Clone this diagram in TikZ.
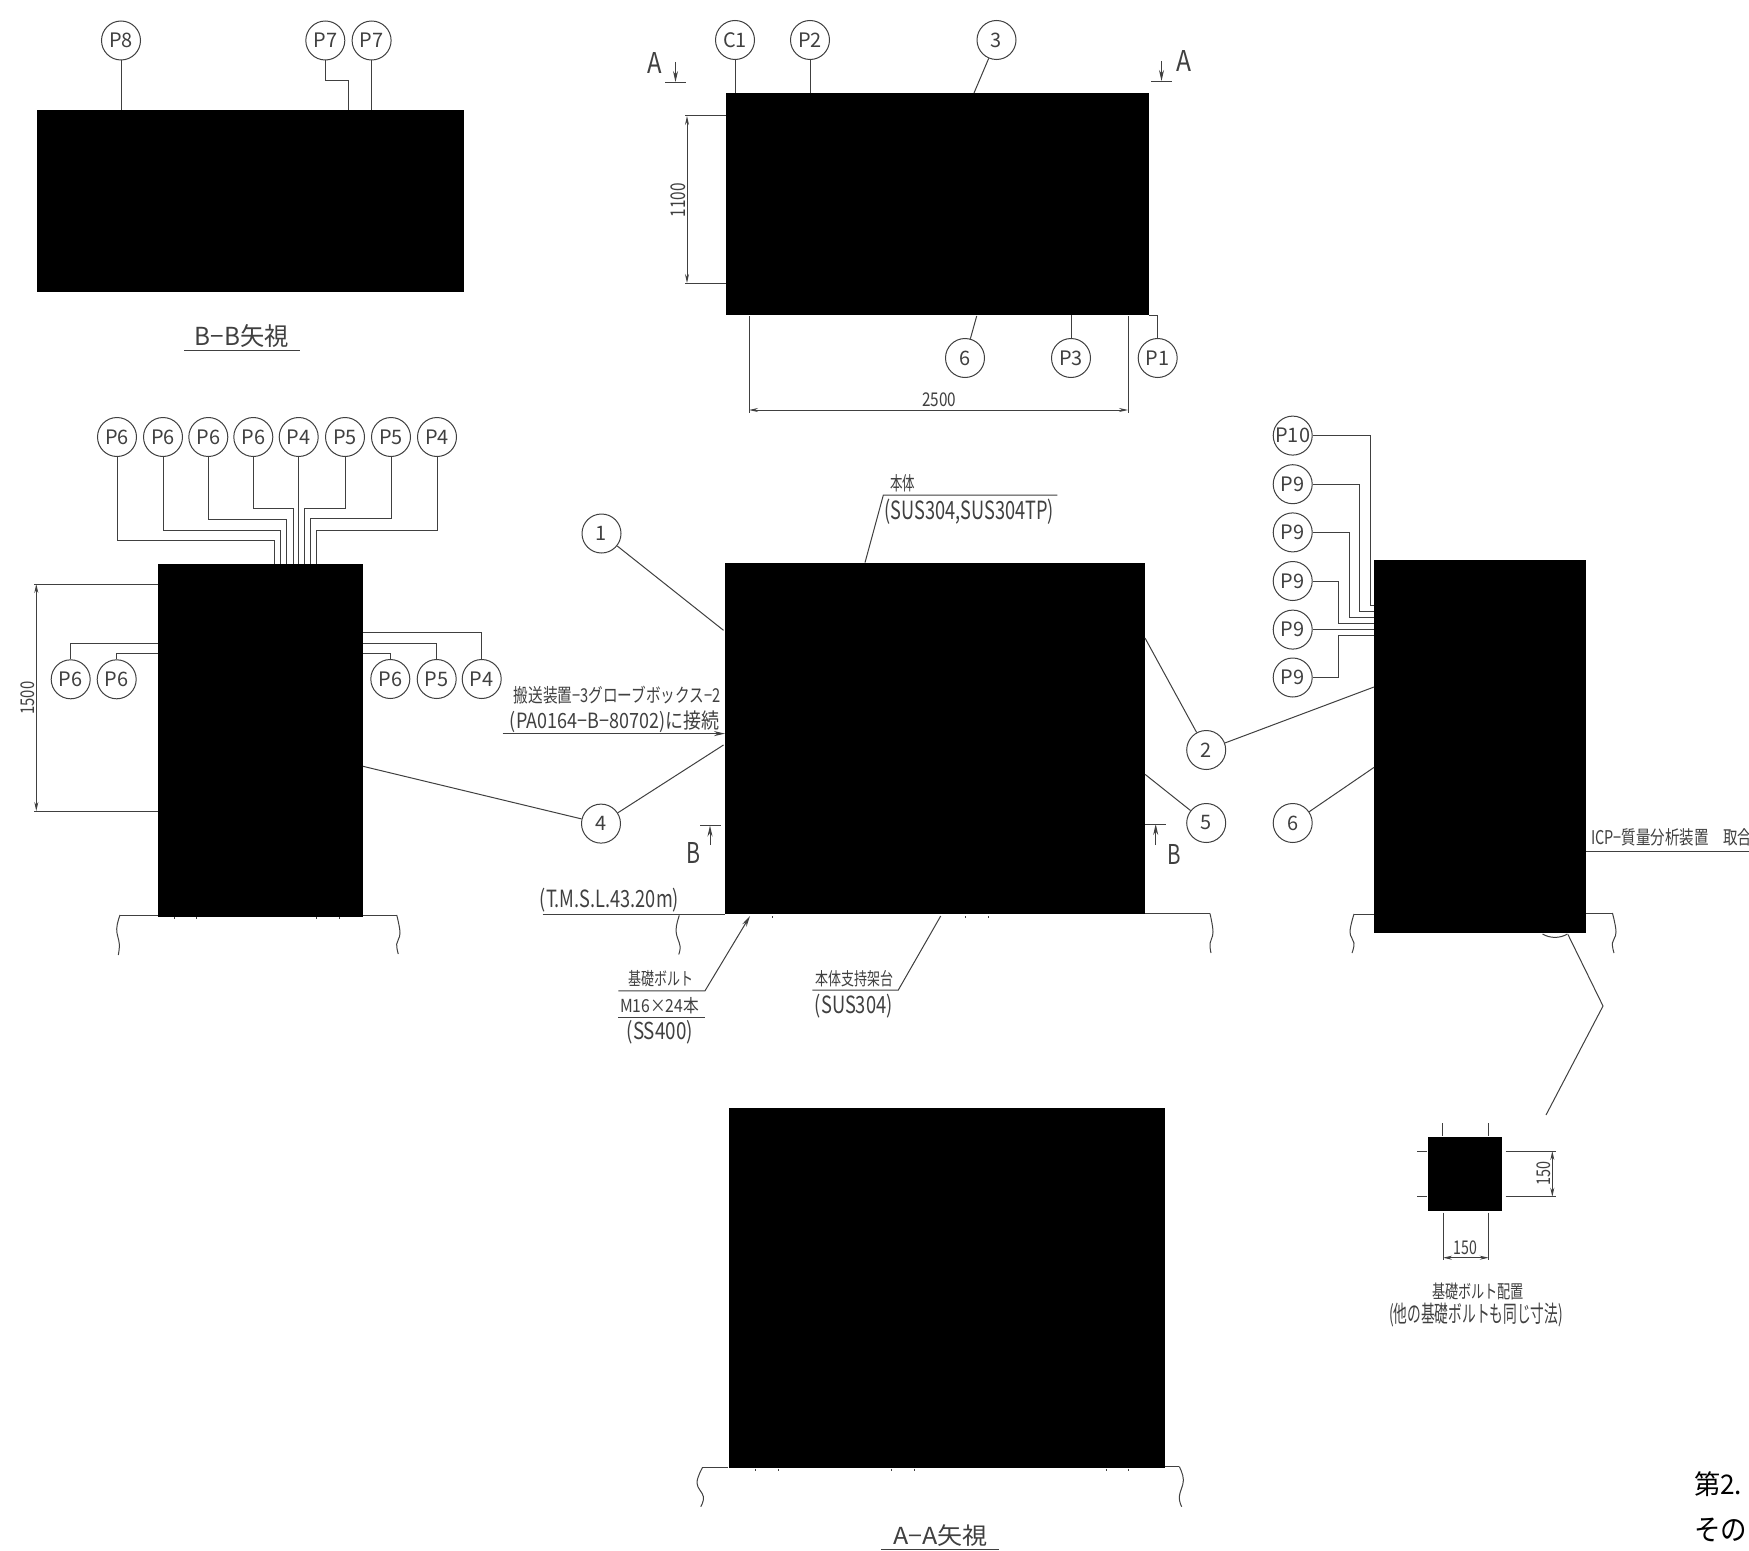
\documentclass[tikz,border=0pt]{standalone}
\usepackage{graphicx}
\usepackage{fontspec}
\setmainfont{Noto Sans CJK JP}
\usetikzlibrary{arrows.meta,calc}
\newcommand\tbox[3]{\resizebox*{#1bp}{#2bp}{#3}}
\definecolor{ink}{gray}{0.25}
\tikzset{
  ln/.style={draw=ink,line width=1bp},
  dim/.style={ln,{Stealth[length=9bp,width=4bp]}-{Stealth[length=9bp,width=4bp]}},
  arw/.style={ln,-{Stealth[length=11bp,width=5bp]}},
  blk/.style={fill=black,inner sep=0bp,outer sep=0bp,anchor=north west},
  bub/.style={circle,draw=ink,line width=1bp,minimum size=39bp,inner sep=0bp,text=ink,font=\fontsize{20}{20}\selectfont},
  lab/.style={inner sep=0bp,outer sep=0bp,text=ink,anchor=center},
}
\begin{document}
\begin{tikzpicture}[x=1bp,y=-1bp]
\useasboundingbox (0,0) rectangle (1749,1551);
\fill[white] (0,0) rectangle (1749,1551);

% black masked views
\node[blk,minimum width=427bp,minimum height=182bp] (bb) at (37,110) {};
\node[blk,minimum width=423bp,minimum height=222bp] (top) at (726,93) {};
\node[blk,minimum width=205.3bp,minimum height=353bp] (left) at (157.7,564) {};
\node[blk,minimum width=420bp,minimum height=351.4bp] (main) at (725,562.6) {};
\node[blk,minimum width=212bp,minimum height=372.7bp] (right) at (1374,560) {};
\node[blk,minimum width=435.8bp,minimum height=360.4bp] (aa) at (729,1107.6) {};
\node[blk,minimum width=74bp,minimum height=74bp] (bolt) at (1428,1137) {};

% balloons
\node[bub] (p8) at (121,40.5) {P8};
\node[bub] (p7a) at (325.3,40.5) {P7};
\node[bub] (p7b) at (371.6,40.5) {P7};
\node[bub] (c1) at (735,40) {C1};
\node[bub] (p2) at (810,40) {P2};
\node[bub] (n3) at (996.5,40) {3};
\node[bub] (n6a) at (965,358) {6};
\node[bub] (p3) at (1071,358) {P3};
\node[bub] (p1) at (1157.7,358) {P1};
\node[bub] (t1) at (117,437) {P6};
\node[bub] (t2) at (163,437) {P6};
\node[bub] (t3) at (208.3,437) {P6};
\node[bub] (t4) at (253.3,437) {P6};
\node[bub] (t5) at (298.7,437) {P4};
\node[bub] (t6) at (345,437) {P5};
\node[bub] (t7) at (391,437) {P5};
\node[bub] (t8) at (437,437) {P4};
\node[bub] (l1) at (70.7,679.3) {P6};
\node[bub] (l2) at (116.7,679.3) {P6};
\node[bub] (r1) at (390.3,679) {P6};
\node[bub] (r2) at (436.7,679) {P5};
\node[bub] (r3) at (481.7,679) {P4};
\node[bub] (n1) at (601.5,533.5) {1};
\node[bub] (n4) at (601,823.6) {4};
\node[bub] (n2) at (1206.2,750) {2};
\node[bub] (n5) at (1206.2,823) {5};
\node[bub] (n6b) at (1292.7,823) {6};
\node[bub] (s1) at (1292.7,435.6) {P10};
\node[bub] (s2) at (1292.7,484.2) {P9};
\node[bub] (s3) at (1292.7,532.4) {P9};
\node[bub] (s4) at (1292.7,581) {P9};
\node[bub] (s5) at (1292.7,629.6) {P9};
\node[bub] (s6) at (1292.7,677.5) {P9};

% leaders: B-B view
\draw[ln] (p8) -- (p8 |- bb.north);
\draw[ln] (p7b) -- (p7b |- bb.north);
\coordinate (p7in) at (348.3,110);
\draw[ln] (p7a.south) -- ++(0,19.7) -| (p7in);

% leaders: plan view
\draw[ln] (c1) -- (c1 |- top.north);
\draw[ln] (p2) -- (p2 |- top.north);
\coordinate (e3) at (974,93);
\draw[ln] (n3) -- (e3);
\coordinate (e6a) at (976.7,316);
\draw[ln] (e6a) -- (n6a);
\draw[ln] (p3) -- (p3 |- top.south);
\draw[ln] (top.south east) -| (p1.north);

% leaders: left view top
\foreach \n/\x/\d in {t1/274.7/83.5,t2/280.3/73.5,t3/286.7/62.3,t4/293/51.9,t6/304.3/51.9,t7/310.3/61.9,t8/316/73}{
  \coordinate (\n in) at (\x,564);
  \draw[ln] (\n.south) -- ++(0,\d) -| (\n in);
}
\draw[ln] (t5) -- (t5 |- left.north);

% leaders: left view sides
\coordinate (lA) at (157.7,643);
\coordinate (lB) at (157.7,653.8);
\coordinate (rA) at (363,653.4);
\coordinate (rB) at (363,643);
\coordinate (rC) at (363,632);
\draw[ln] (l1.north) |- (lA);
\draw[ln] (l2.north) |- (lB);
\draw[ln] (r1.north) |- (rA);
\draw[ln] (r2.north) |- (rB);
\draw[ln] (r3.north) |- (rC);

% leaders: main view
\coordinate (e1) at (723.5,630.3);
\draw[ln] (n1) -- (e1);
\coordinate (e4l) at (363,766.3);
\draw[ln] (e4l) -- (n4);
\coordinate (e4m) at (723.5,745);
\draw[ln] (n4) -- (e4m);
\coordinate (e2m) at (1145,638);
\draw[ln] (e2m) -- (n2);
\coordinate (e2r) at (1374,687);
\draw[ln] (n2) -- (e2r);
\coordinate (e5) at (1145,774.3);
\draw[ln] (e5) -- (n5);
\coordinate (e6b) at (1374,767.4);
\draw[ln] (n6b) -- (e6b);

% leaders: side view
\coordinate (i1) at (1374,605.5);
\coordinate (i2) at (1374,611);
\coordinate (i3) at (1374,617.4);
\coordinate (i4) at (1374,623.5);
\coordinate (i5) at (1374,629.6);
\coordinate (i6) at (1374,635.7);
\draw[ln] (s1.east) -| (1370,605.5) -- (i1);
\draw[ln] (s2.east) -| (1359.8,611) -- (i2);
\draw[ln] (s3.east) -| (1349,617.4) -- (i3);
\draw[ln] (s4.east) -| (1338,623.5) -- (i4);
\draw[ln] (s5.east) -- (i5);
\draw[ln] (s6.east) -| (1338,635.7) -- (i6);

% dimensions
\coordinate (d1a) at (685,116);
\coordinate (d1b) at (685,283);
\draw[ln] (d1a) -- (top.west |- d1a);
\draw[ln] (d1b) -- (top.west |- d1b);
\draw[dim] (687,116) -- (687,283);
\node[lab,rotate=90] (t1100) at (678,200) {\tbox{34}{15}{1100}};
\draw[ln] (749,316) -- (749,413);
\draw[ln] (1128,316) -- (1128,413);
\draw[dim] (749,410) -- (1128,410);
\node[lab] (t2500) at (939,400) {\tbox{34}{14}{2500}};
\coordinate (d3a) at (34,584);
\coordinate (d3b) at (34,811);
\draw[ln] (d3a) -- (d3a -| left.west);
\draw[ln] (d3b) -- (d3b -| left.west);
\draw[dim] (36.3,584) -- (36.3,811);
\node[lab,rotate=90] (t1500) at (27.3,698) {\tbox{33}{14}{1500}};

% section marks
\draw[ln] (665,82.3) -- (686,82.3);
\draw[arw] (675.5,62) -- (675.5,82);
\node[lab] (tAl) at (655,62.5) {\tbox{14.5}{21}{A}};
\draw[ln] (1151,82) -- (1172,82);
\draw[arw] (1161.5,61) -- (1161.5,81);
\node[lab] (tAr) at (1183.5,61) {\tbox{15}{21}{A}};
\draw[ln] (700,825.5) -- (721,825.5);
\draw[arw] (710,845) -- (710,825.5);
\node[lab] (tBl) at (693.7,853) {\tbox{14}{21}{B}};
\draw[ln] (1145,824) -- (1165.5,824);
\draw[arw] (1155.7,845) -- (1155.7,824);
\node[lab] (tBr) at (1174.2,854) {\tbox{13.5}{20}{B}};

% view titles
\node[lab] (tbb) at (242,336.5) {\tbox{94}{23}{B−B矢視}};
\draw[ln] (184,350) -- (300,350);
\node[lab] (taa) at (940.7,1536) {\tbox{94.5}{21.7}{A−A矢視}};
\draw[ln] (880.8,1549) -- (998.5,1549);

% annotations
\coordinate (eh) at (865,562.6);
\draw[ln] (eh) -- (883.3,495.2) -- (1057.4,495.2);
\node[lab] (thon) at (902.5,483.7) {\tbox{25}{17.5}{本体}};
\node[lab] (thonm) at (969.3,511.3) {\tbox{169.5}{25.4}{(SUS304,SUS304TP)}};
\node[lab] (tcon1) at (617.3,695) {\tbox{206.7}{18}{搬送装置−3グローブボックス−2}};
\node[lab] (tcon2) at (614.5,721.6) {\tbox{209}{21.8}{(PA0164−B−80702)に接続}};
\coordinate (econ) at (725,733.6);
\draw[arw] (502.7,733.6) -- (econ);
\node[lab] (ttms) at (609.5,900.6) {\tbox{139}{24}{(T.M.S.L.43.20m)}};
\coordinate (etms) at (725,914.6);
\draw[ln] (542.7,914.6) -- (etms);
\draw[ln] plot[smooth,tension=.7] coordinates {(679.3,915.4) (676,930.7) (680,946) (678.7,954.4)};

\coordinate (ebolt) at (750,916);
\draw[arw] (618.3,990.8) -- (705,990.8) -- (ebolt);
\node[lab] (tb1) at (660.5,979) {\tbox{65}{16.5}{基礎ボルト}};
\node[lab] (tb2) at (659.5,1005.8) {\tbox{79}{16.5}{M16×24本}};
\draw[ln] (618.3,1017) -- (705,1017);
\node[lab] (tb3) at (659.8,1032.5) {\tbox{66.3}{23.7}{(SS400)}};
\coordinate (esup) at (940.7,916);
\draw[ln] (812.3,990) -- (898.3,990) -- (esup);
\node[lab] (ts1) at (854,979) {\tbox{78}{16.5}{本体支持架台}};
\node[lab] (ts2) at (853.8,1006) {\tbox{77.7}{24}{(SUS304)}};

\node[lab] (ticp) at (1671.5,837.3) {\tbox{161}{17.5}{ICP−質量分析装置　取合}};
\coordinate (eicp) at (1586,851.6);
\draw[ln] (eicp) -- (1749,851.6);

% ground lines
\draw[ln] (157.7,915) -- (120,915);
\draw[ln] plot[smooth,tension=.7] coordinates {(120,915) (116.7,929) (119.3,944) (118.3,955)};
\draw[ln] (363,915) -- (396.7,915);
\draw[ln] plot[smooth,tension=.7] coordinates {(396.7,915) (400,933) (396.7,944) (398.3,954)};
\draw[ln] (1145,913.6) -- (1210,913.6);
\draw[ln] plot[smooth,tension=.7] coordinates {(1210,913.6) (1213,932) (1210,943.4) (1211,953)};
\draw[ln] (1374,914) -- (1354,914);
\draw[ln] plot[smooth,tension=.7] coordinates {(1354,914) (1350,932) (1354,943) (1352,953)};
\draw[ln] (1586,913) -- (1612.4,913);
\draw[ln] plot[smooth,tension=.7] coordinates {(1612.4,913) (1616,932) (1612.4,943) (1614,953)};
\draw[ln] (727.5,1467.7) -- (702.4,1467.7);
\draw[ln] plot[smooth,tension=.7] coordinates {(702.4,1467.7) (697,1483) (703.4,1496.7) (700.7,1506.7)};
\draw[ln] (1164.8,1466.7) -- (1179.3,1466.7);
\draw[ln] plot[smooth,tension=.7] coordinates {(1179.3,1466.7) (1183.4,1480) (1179.3,1496.7) (1181.7,1506.7)};

% foot ticks
\foreach \x in {174,196.7,316,339.3} \draw[ln,line width=.8bp] (\x,917.3) -- (\x,919);
\foreach \x in {772.7,965,988.3} \draw[ln,line width=.8bp] (\x,916) -- (\x,918);
\foreach \x in {755.8,778.8,891.8,914,1106.3,1128.7} \draw[ln,line width=.8bp] (\x,1468.5) -- (\x,1471);

% detail callout
\draw[ln] (1542.5,934) .. controls (1550,938.5) and (1560,938.5) .. (1567.4,934);
\coordinate (z1) at (1568,934.6);
\coordinate (z2) at (1603,1006);
\coordinate (z3) at (1546,1115);
\draw[ln] (z1) -- (z2) -- (z3);

% bolt detail
\draw[ln] (1442.7,1123) -- (1442.7,1136);
\draw[ln] (1488,1123) -- (1488,1136);
\draw[ln] (1417,1151) -- (1427,1151);
\draw[ln] (1417,1196.7) -- (1427,1196.7);
\draw[ln] (1505.7,1151) -- (1555.7,1151);
\draw[ln] (1505.7,1196.7) -- (1555.7,1196.7);
\draw[dim] (1552.3,1151) -- (1552.3,1196.7);
\node[lab,rotate=90] (t150a) at (1543.3,1173) {\tbox{24}{14}{150}};
\draw[ln] (1443,1212.7) -- (1443,1260);
\draw[ln] (1488.7,1212.7) -- (1488.7,1260);
\draw[dim] (1443,1257.7) -- (1488.7,1257.7);
\node[lab] (t150b) at (1465.7,1248) {\tbox{23.5}{14}{150}};
\node[lab] (tbp1) at (1478,1291.5) {\tbox{92}{17}{基礎ボルト配置}};
\node[lab] (tbp2) at (1476,1315) {\tbox{174}{24}{(他の基礎ボルトも同じ寸法)}};

% caption fragments at page edge
\node[lab,text=black,anchor=west] (cap1) at (1694,1484.5) {\tbox{48}{25}{第2.}};
\node[lab,text=black,anchor=west] (cap2) at (1694,1530) {\tbox{53}{24}{その}};
\end{tikzpicture}
\end{document}
